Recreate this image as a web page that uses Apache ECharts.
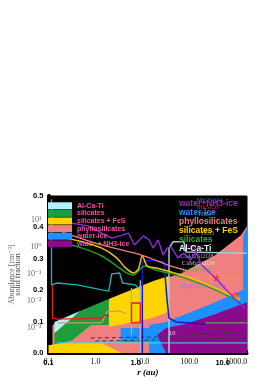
<!DOCTYPE html>
<html><head><meta charset="utf-8">
<script src="https://cdn.jsdelivr.net/npm/echarts@6/dist/echarts.min.js"></script>
<style>html,body{margin:0;padding:0;background:#fff}#c{width:276px;height:390px}</style>
</head><body><div id="c"></div>
<script>
// ---- phases (legend) ----
const phases = ['Al-Ca-Ti', 'silicates', 'silicates + FeS', 'phyllosilicates', 'water-ice', 'water + NH3-ice'];
const phaseColors = ['#b4f0ff', '#1c9e3c', '#ffd400', '#f08080', '#1e90ff', '#8b0a8b'];
const phaseTextColors = ['#e8f4ff', '#22aa33', '#ffd400', '#f08080', '#1e90ff', '#a020c0'];

// ---- condensation regions: [r (au), solid fraction] ----
const regionPhyllo = [[0.1214,0.089],[17.1,0.226],[37,0.242],[69.5,0.255],[361,0.312],[1274,0.376],[1700,0.404],[1700,0],[0.1214,0]];
const regionFeS = [[1.923,0.172],[17.1,0.229],[37,0.245],[37,0.131],[15.5,0.111],[1.923,0.083]];
const regionSil = [[0.1338,0.064],[0.472,0.134],[1.923,0.172],[1.923,0.089],[0.804,0.089],[0.32,0.041],[0.1338,0.025]];
const regionAlCaTi = [[0.1338,0.099],[0.472,0.134],[0.1338,0.064]];
const regionFeSLow = [[0.1,0.025],[0.1971,0.032],[1.37,0.032],[2.225,0.016],[3.614,0],[0.1,0]];
const regionIceMid = [[3.443,0.080],[17.1,0.080],[17.1,0.035],[3.443,0.035]];
const regionIceBand = [[14.0,0.089],[32.0,0.099],[66.2,0.118],[361,0.162],[1700,0.207],[1700,0],[14.0,0]];
const regionNH3 = [[20.7,0.057],[32,0.080],[84.4,0.092],[361,0.124],[1700,0.162],[1700,0],[32,0]];
const regionIceEdge = [[1403,0.373],[1700,0.398],[1700,0.169],[1403,0.169]];

// ---- curves ----
const curvePurple = [[0.1971,0.417],[0.408,0.411],[0.7297,0.404],[1.37,0.382],[2.225,0.366],[3.28,0.373],[5.07,0.382],[6.79,0.344],[8.65,0.360],[10.5,0.373],[14.0,0.360],[17.1,0.334],[21.7,0.360],[27.7,0.312],[33.6,0.334],[40.8,0.338],[57.3,0.303],[76.6,0.318],[107.6,0.296],[137,0.322],[183,0.280],[361,0.239],[679,0.194],[1103,0.162],[1546,0.143]];
const curveYellow = [[0.1971,0.369],[0.5197,0.354],[1.37,0.334],[2.836,0.303],[4.386,0.271],[6.46,0.255],[8.24,0.268],[10,0.309],[12.7,0.277],[19.7,0.271],[40.8,0.258],[107.6,0.239],[361,0.207],[1214,0.169]];
const curveGreen = [[0.1971,0.350],[0.5197,0.334],[1.37,0.309],[2.836,0.277],[4.6,0.255],[6.46,0.248],[9.08,0.268],[11,0.277],[19.7,0.264],[40.8,0.252],[107.6,0.232],[361,0.201],[1214,0.162]];
const curveSalmon = [[0.1971,0.385],[1.37,0.344],[9.53,0.312],[40.8,0.277],[107.6,0.258],[361,0.223],[1214,0.175]];
const curveTeal = [[0.1157,0.49],[0.1157,0.217],[0.1338,0.220],[0.1547,0.223],[0.408,0.217],[1.37,0.201],[1.923,0.197],[2.225,0.252],[3.28,0.255],[3.793,0.223],[7.12,0.217],[8.24,0.205]];
const curveAlCaTi = [[37,0],[37,0.334],[45,0.354],[76.6,0.354],[84.4,0.322],[1700,0.318]];
const curveBlue = [[10,0],[10,0.290],[15.5,0.296],[29,0.290],[33.6,0.169],[37,0.111],[52,0.099],[222,0.092]];
const curveGrey = [[9.08,0.232],[9.08,0]];
const curveRed = [[0.1214,0.217],[0.1214,0.111],[0.1547,0.108],[1.37,0.111],[1.585,0.121],[1.923,0.118]];
const boxRed = [[5.86,0.159],[9.08,0.159],[9.08,0.096],[5.86,0.096],[5.86,0.159]];
const curveTan = [[0.1547,0.096],[1.37,0.096],[1.746,0.131],[3.28,0.134],[4.6,0.124]];
const curveLightGreen = [[5.86,0.207],[5.86,0.057]];
const curveIceFloor = [[222,0.096],[1700,0.096]];
const curveCyanLow = [[0.15,0.032],[1700,0.032]];
const dashedA = [[0.8,0.048],[30,0.051],[1700,0.070]];
const dashedB = [[1.0,0.038],[1700,0.048]];

// ---- mineral labels ----
const mineralNames = ['Mg2SiO4','MgSiO3','NH3','H2O','Fe2SiO4','CaAl2Si2O8','CaMgSi2O6','NaAlSi3O8','NaFe3AlSi3O10(OH)2','Mg3Si2O5(OH)4','10'];
const mineralX = [143.9,143.9,158.5,183,63.1,63.1,69.5,63.1,60,63.1,37];
const mineralY = [0.487,0.465,0.443,0.382,0.338,0.309,0.287,0.264,0.242,0.213,0.064];
const mineralColors = ['#30b0a0','#e04040','#a8a8a8','#a0a0a0','#d040d0','#c8c8c8','#e0e0e0','#40c040','#ff9a50','#8080ff','#ffffff'];
const starPoints = [[379,0.239],[952,0.185]];

const SERIF = "'Liberation Serif','DejaVu Serif',serif";
const SANS = "'Liberation Sans',Arial,sans-serif";

function poly(phaseIdx, pts) {
  const color = phaseColors[phaseIdx];
  return {
    type: 'custom', name: phases[phaseIdx], coordinateSystem: 'cartesian2d',
    xAxisIndex: 0, yAxisIndex: 0, clip: true, silent: true,
    itemStyle: { color: color }, data: [[1, 0.1]],
    renderItem: function (params, api) {
      return { type: 'polygon', shape: { points: pts.map(p => api.coord(p)) }, style: { fill: color } };
    }
  };
}
function line(name, color, pts, width, extra) {
  return Object.assign({
    type: 'line', name: name, data: pts, showSymbol: false, symbol: 'none', silent: true,
    xAxisIndex: 0, yAxisIndex: 0, clip: true,
    lineStyle: { color: color, width: width || 1.3 }, itemStyle: { color: color }
  }, extra || {});
}
const sup = { '0': '⁰', '1': '¹', '2': '²', '3': '³', '4': '⁴', '-': '⁻' };

const chart = echarts.init(document.getElementById('c'), null, { renderer: 'canvas' });
chart.setOption({
  animation: false,
  backgroundColor: '#fff',
  grid: { left: 46, right: 29, top: 196, bottom: 37, show: true, backgroundColor: '#000', borderColor: '#000', borderWidth: 1 },
  xAxis: [
    { type: 'log', logBase: 10, min: 0.1, max: 1700, position: 'bottom',
      axisLine: { show: true, lineStyle: { color: '#000', width: 3 } },
      axisTick: { show: true, inside: true, length: 3, lineStyle: { color: '#000' } },
      minorTick: { show: true, splitNumber: 9, length: 2, lineStyle: { color: '#222' } },
      splitLine: { show: false },
      axisLabel: { showMaxLabel: false, margin: 5, fontFamily: SERIF, fontSize: 8, color: '#111', formatter: v => Number(v).toFixed(1) },
      name: 'r (au)', nameLocation: 'middle', nameGap: 15,
      nameTextStyle: { fontFamily: SERIF, fontStyle: 'italic', fontWeight: 'bold', fontSize: 9, color: '#000' } },
    { type: 'log', logBase: 10, min: 0.1, max: 19, position: 'bottom',
      axisLine: { show: false }, axisTick: { show: false }, splitLine: { show: false },
      axisLabel: { showMaxLabel: false, margin: 6, fontFamily: SANS, fontWeight: 'bold', fontSize: 7.5, color: '#000', formatter: v => Number(v).toFixed(1) } }
  ],
  yAxis: [
    { type: 'value', min: 0, max: 0.5, interval: 0.1, position: 'left',
      axisLine: { show: true, lineStyle: { color: '#000', width: 4 } },
      axisTick: { show: false }, splitLine: { show: false },
      axisLabel: { margin: 5, fontFamily: SANS, fontWeight: 'bold', fontSize: 7.5, color: '#000', formatter: v => Number(v).toFixed(1) },
      name: 'solid fraction', nameLocation: 'middle', nameGap: 22, nameRotate: 90,
      nameTextStyle: { fontFamily: SERIF, fontSize: 8, color: '#444' } },
    { type: 'log', logBase: 10, min: 0.000117, max: 79, position: 'left',
      axisLine: { show: false }, axisTick: { show: false }, splitLine: { show: false },
      axisLabel: { showMinLabel: false, showMaxLabel: false, margin: 7, fontFamily: SERIF, fontSize: 8, color: '#666',
        formatter: v => '10' + String(Math.round(Math.log10(v))).split('').map(c => sup[c] || c).join('') },
      name: 'Abundance [cm⁻³]', nameLocation: 'middle', nameGap: 28, nameRotate: 90,
      nameTextStyle: { fontFamily: SERIF, fontSize: 8, color: '#666' } }
  ],
  legend: [
    { orient: 'vertical', left: 48, top: 202, padding: 0, itemGap: 0, itemWidth: 24, itemHeight: 7, icon: 'rect',
      selectedMode: false, data: phases.slice(),
      textStyle: { color: '#f050a8', fontFamily: SANS, fontWeight: 'bold', fontSize: 7, lineHeight: 7.6 } },
    { orient: 'vertical', left: 174, top: 199, padding: 0, itemGap: 0, itemWidth: 0, itemHeight: 0, icon: 'none',
      selectedMode: false,
      formatter: n => n.replace(' + N', '+N'),
      data: phases.map((p, i) => ({ name: p, textStyle: { color: phaseTextColors[i] } })).reverse(),
      textStyle: { fontFamily: SANS, fontWeight: 'bold', fontSize: 8.5, lineHeight: 8.2 } }
  ],
  series: [
    poly(3, regionPhyllo),
    poly(2, regionFeS),
    poly(1, regionSil),
    poly(0, regionAlCaTi),
    poly(2, regionFeSLow),
    poly(4, regionIceMid),
    poly(4, regionIceBand),
    poly(5, regionNH3),
    poly(4, regionIceEdge),
    line('dashA', '#3a3a3a', dashedA, 1, { lineStyle: { color: '#3a3a3a', width: 1, type: [4, 3] } }),
    line('dashB', '#3a3a3a', dashedB, 1, { lineStyle: { color: '#3a3a3a', width: 1, type: [4, 3] } }),
    line('cyanLow', '#40e0e0', curveCyanLow, 1),
    line('iceFloor', '#70b070', curveIceFloor, 1),
    line('tan', '#c8a060', curveTan, 1.2),
    line('lightgreen', '#80d080', curveLightGreen, 1.2),
    line('grey', '#b0b0b0', curveGrey, 1.5),
    line('red', '#e02020', curveRed, 1.4),
    line('redbox', '#e02020', boxRed, 1.4),
    line('teal', '#20b0b0', curveTeal, 1.4),
    line('alcati', '#a8c8d8', curveAlCaTi, 1.5),
    line('blue', '#1515d0', curveBlue, 1.5),
    line('salmon', '#f08080', curveSalmon, 1.3, { smooth: 0.3 }),
    line('green', '#1f9a2a', curveGreen, 1.5, { smooth: 0.3 }),
    line('yellow', '#e8c410', curveYellow, 1.5, { smooth: 0.3 }),
    line('purple', '#8a2be2', curvePurple, 1.4),
    { type: 'scatter', name: 'labels', silent: true, symbolSize: 0, xAxisIndex: 0, yAxisIndex: 0,
      data: mineralNames.map((n, i) => ({ name: n, value: [mineralX[i], mineralY[i]],
        label: { show: true, position: 'right', distance: 0, formatter: n, color: mineralColors[i], fontFamily: SERIF, fontSize: 6.5 } })) },
    { type: 'scatter', name: 'stars', silent: true, xAxisIndex: 0, yAxisIndex: 0, symbolSize: 8,
      symbol: 'path://M50,0 L61,35 L98,35 L68,57 L79,91 L50,70 L21,91 L32,57 L2,35 L39,35 Z',
      itemStyle: { color: '#ff1010' }, data: starPoints }
  ]
});
</script></body></html>
